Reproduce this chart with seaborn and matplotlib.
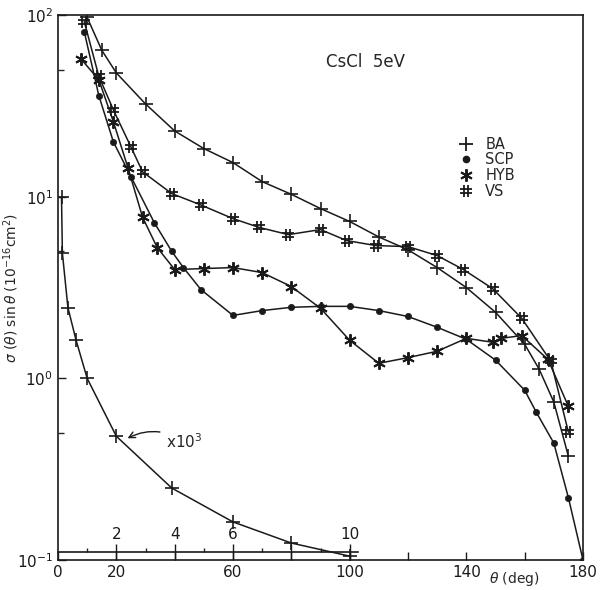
import matplotlib
matplotlib.use('Agg')
import matplotlib.pyplot as plt
from matplotlib.path import Path
from matplotlib.lines import Line2D
from matplotlib.ticker import FixedLocator, NullFormatter
import seaborn as sns

# BA (+)
ba_theta = [10, 15, 20, 30, 40, 50, 60, 70, 80, 90, 100, 110, 120, 130, 140, 150, 160, 165, 170, 175]
ba_sig = [97, 64, 48, 32.4, 23, 18.4, 15.4, 12.1, 10.3, 8.6, 7.3, 6.0, 5.1, 4.07, 3.16, 2.31, 1.54, 1.12, 0.74, 0.372]

# SCP (dots)
scp_theta = [9, 14, 19, 25, 33, 39, 43, 49, 60, 70, 80, 90, 100, 110, 120, 130, 140, 150, 160, 164, 170, 175, 180]
scp_sig = [81, 36, 20, 12.9, 7.2, 5.0, 4.07, 3.08, 2.22, 2.36, 2.46, 2.49, 2.49, 2.36, 2.19, 1.91, 1.64, 1.26, 0.86, 0.65, 0.44, 0.22, 0.1]

# HYB (asterisk)
hyb_theta = [8, 14, 19, 24, 29, 34, 40, 50, 60, 70, 80, 90, 100, 110, 120, 130, 140, 149, 152, 159, 168, 175]
hyb_sig = [57, 44, 25.8, 14.4, 7.7, 5.25, 3.97, 4.02, 4.07, 3.82, 3.20, 2.43, 1.62, 1.21, 1.30, 1.41, 1.66, 1.58, 1.66, 1.72, 1.27, 0.70]

# VS (#)
vs_theta = [9, 14, 19, 25, 29, 39, 49, 60, 69, 79, 90, 99, 109, 120, 130, 139, 149, 159, 169, 175]
vs_sig = [92, 46, 30, 18.8, 13.7, 10.4, 9.0, 7.57, 6.77, 6.18, 6.59, 5.73, 5.38, 5.31, 4.74, 3.97, 3.12, 2.14, 1.24, 0.505]

# BA small angle, x10^3, against the inset scale (0-10 deg)
low_theta = [0.12, 0.15, 0.34, 0.62, 1.0, 2.0, 3.9, 6.0, 8.0, 10.0]
low_sig = [10, 4.9, 2.45, 1.62, 1.0, 0.48, 0.249, 0.162, 0.124, 0.105]

sns.set_theme(style='white')
plt.rcParams['font.family'] = ['DejaVu Sans']

hash_marker = Path([(-0.35, -1), (-0.35, 1), (0.35, -1), (0.35, 1),
                    (-1, -0.35), (1, -0.35), (-1, 0.35), (1, 0.35)],
                   [Path.MOVETO, Path.LINETO] * 4)
star_marker = (6, 2, 0)

fig = plt.figure(figsize=(6.03, 5.90), dpi=100)
ax = fig.add_axes([58 / 603, 30 / 590, 525 / 603, 545 / 590])

line_kw = dict(color='k', lw=1.1, mec='k', mfc='k', sort=False, estimator=None)
sns.lineplot(x=ba_theta, y=ba_sig, ax=ax, marker='+', ms=10, mew=1.2, **line_kw)
sns.lineplot(x=scp_theta, y=scp_sig, ax=ax, marker='o', ms=4.5, mew=0.5, **line_kw)
sns.lineplot(x=hyb_theta, y=hyb_sig, ax=ax, marker=star_marker, ms=9, mew=1.4, **line_kw)
sns.lineplot(x=vs_theta, y=vs_sig, ax=ax, marker=hash_marker, ms=8, mew=1.3, **line_kw)

ax.set_yscale('log')
ax.set_ylim(0.1, 100)
ax.set_xlim(0, 180)
ax.set_xticks(range(0, 181, 20))
ax.set_xticklabels(['0', '20', '', '60', '', '100', '', '140', '', '180'])
ax.yaxis.set_minor_locator(FixedLocator([0.5, 5, 50]))
ax.yaxis.set_minor_formatter(NullFormatter())
ax.tick_params(axis='both', which='major', direction='in', length=6, width=1, labelsize=11, colors='k')
ax.tick_params(axis='y', which='minor', direction='in', length=4, width=1, left=True)
ax.tick_params(axis='x', bottom=True, top=False)
ax.tick_params(axis='y', left=True, right=False)
for s in ax.spines.values():
    s.set_color('k')
    s.set_linewidth(1.2)

ax.set_xlabel(r'$\theta$ (deg)', fontsize=10)
ax.xaxis.set_label_coords(0.869, -0.018)
ax.set_ylabel(r'$\sigma$ ($\theta$) sin$\,\theta$ (10$^{-16}$cm$^2$)', fontsize=10)
ax.yaxis.set_label_coords(-0.07, 0.5)

# inset scale for the x10^3 curve
ax2 = ax.twiny()
ax2.set_xlim(0, 18)
sns.lineplot(x=low_theta, y=low_sig, ax=ax2, marker='+', ms=10, mew=1.2, **line_kw)
ax2.set_ylim(0.1, 100)
for side in ['bottom', 'left', 'right']:
    ax2.spines[side].set_visible(False)
ax2.spines['top'].set_position(('data', 0.1106))
ax2.spines['top'].set_bounds(0, 10.3)
ax2.spines['top'].set_color('k')
ax2.spines['top'].set_linewidth(1.2)
ax2.set_xticks([2, 4, 6, 8, 10])
ax2.set_xticklabels(['2', '4', '6', '', '10'])
ax2.set_xticks([1, 3, 5, 7, 9], minor=True)
ax2.tick_params(axis='x', which='major', direction='inout', length=12, width=1,
                labelsize=11, pad=1, colors='k')
ax2.tick_params(axis='x', which='minor', direction='out', length=3, width=1, top=True)
ax2.set_xlabel('')
ax2.set_ylabel('')

ax.annotate(r'x10$^3$', xy=(23, 0.46), xytext=(37, 0.45), fontsize=11, va='center',
            arrowprops=dict(arrowstyle='->', color='k', lw=1, connectionstyle='arc3,rad=0.3'))
ax.text(92, 55, 'CsCl  5eV', fontsize=12, va='center')

handles = [Line2D([], [], ls='none', color='k', marker='+', ms=10, mew=1.3),
           Line2D([], [], ls='none', color='k', marker='o', ms=4.5),
           Line2D([], [], ls='none', color='k', marker=star_marker, ms=9, mew=1.4),
           Line2D([], [], ls='none', color='k', marker=hash_marker, ms=8, mew=1.3)]
ax.legend(handles, ['BA', 'SCP', 'HYB', 'VS'], loc='upper left', bbox_to_anchor=(0.75, 0.79),
          frameon=False, fontsize=10.5, handlelength=1, handletextpad=0.8,
          labelspacing=0.05, borderpad=0)

fig.savefig('out.png', dpi=100)
